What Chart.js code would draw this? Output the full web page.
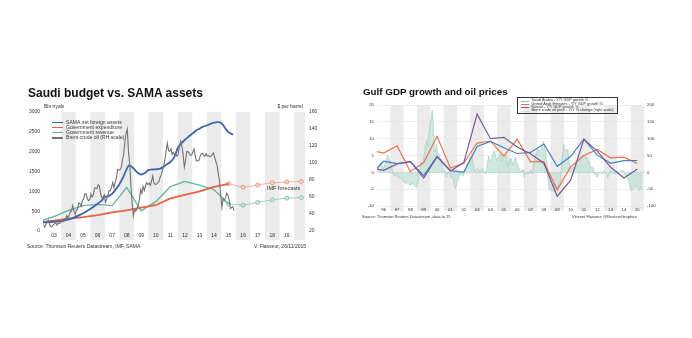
<!DOCTYPE html>
<html><head><meta charset="utf-8">
<script src="https://cdn.jsdelivr.net/npm/chart.js"></script>
<style>
body{margin:0;background:#fff;}
#wrap{position:relative;width:692px;height:338px;overflow:hidden;font-family:"Liberation Sans",Arial,sans-serif;color:#222;background:#fff}
canvas{position:absolute;top:0}
.t{position:absolute;white-space:nowrap;line-height:1}
.lg{position:absolute;white-space:nowrap;line-height:1}
.sw{position:absolute}
</style></head><body><div id="wrap">
<canvas id="c1" width="346" height="338" style="left:0"></canvas>
<canvas id="c2" width="346" height="338" style="left:346px"></canvas>
<div class="t" style="left:28px;top:87.3px;font-size:12px;font-weight:bold;color:#111">Saudi budget vs. SAMA assets</div>
<div class="t" style="left:44px;top:103.5px;font-size:5px;color:#333">Bln riyals</div>
<div class="t" style="right:389px;top:103.5px;font-size:5px;color:#333">$ per barrel</div>
<div class="t" style="left:267px;top:186.3px;font-size:5.5px;color:#333">IMF forecasts</div>
<div class="t" style="left:27px;top:244.2px;font-size:5px;color:#333">Source: Thomson Reuters Datastream, IMF, SAMA</div>
<div class="t" style="right:386px;top:244.2px;font-size:5px;color:#333">V. Flasseur, 26/11/2015</div>
<div class="t" style="left:363px;top:87.3px;font-size:9.8px;font-weight:bold;color:#111">Gulf GDP growth and oil prices</div>
<div class="t" style="left:362px;top:215px;font-size:4px;color:#333">Source: Thomson Reuters Datastream, data to 15</div>
<div class="t" style="right:55px;top:215px;font-size:4px;color:#333">Vincent Flasseur @ReutersGraphics</div>
<div id="leg1"></div>
<div id="leg2" style="position:absolute;left:517px;top:96.5px;width:101px;height:17px;border:0.6px solid #333;box-sizing:border-box"></div>
</div>
<script>
// ---------- Left chart data ----------
const leftYears = [2003,2004,2005,2006,2007,2008,2009,2010,2011,2012,2013,2014,2015,2016,2017,2018,2019];
const leftYearLabels = ['03','04','05','06','07','08','09','10','11','12','13','14','15','16','17','18','19'];
const leftShaded = [2004,2006,2008,2010,2012,2014,2016,2018,2020];

const samaDates = [2002.75,2003.25,2003.75,2004.25,2004.75,2005.25,2005.75,2006.25,2006.75,2007.0,2007.25,2007.5,2007.75,2008.0,2008.25,2008.5,2008.67,2008.85,2009.0,2009.25,2009.5,2009.75,2010.0,2010.25,2010.5,2010.75,2011.0,2011.25,2011.5,2011.75,2012.0,2012.2,2012.5,2012.75,2013.0,2013.25,2013.5,2013.75,2014.0,2014.25,2014.5,2014.75,2014.9,2015.1,2015.3,2015.5,2015.8];
const samaAssets = [215,225,240,270,320,400,500,620,760,860,880,940,1050,1180,1350,1560,1660,1620,1560,1470,1420,1460,1540,1550,1555,1565,1610,1680,1740,1850,2080,2190,2300,2380,2450,2530,2580,2630,2660,2700,2730,2745,2740,2680,2570,2490,2430];

const budgetYears = [2002,2003,2004,2005,2006,2007,2008,2009,2010,2011,2012,2013,2014,2015];
const govExpenditure = [220,260,310,350,400,470,520,590,650,820,910,1000,1110,1190];
const govRevenue = [250,360,520,640,670,640,1100,510,740,1120,1250,1155,1040,680];

const imfYears = [2015,2016,2017,2018,2019,2020];
const imfExpenditure = [1190,1100,1160,1215,1235,1250];
const imfRevenue = [680,650,720,785,830,840];

// Brent crude, $ per barrel, monthly from Oct 2002 to Nov 2015
const brentStartYear = 2002, brentStartMonth = 9;
const brentPrice = [27.5,24.5,28.5,
 31.0,32.5,28.0,25.0,25.5,27.5,28.5,29.8,27.0,29.5,28.8,29.8,
 31.2,30.9,33.8,33.4,37.9,35.2,38.2,42.7,43.2,49.8,43.1,39.6,
 44.5,45.5,53.1,51.9,49.0,55.6,57.9,63.8,63.7,58.5,55.5,56.8,
 63.6,59.9,62.3,70.4,70.8,69.8,74.4,73.0,63.8,59.5,59.5,62.5,
 53.7,57.6,62.1,67.5,67.5,71.3,77.2,70.8,77.2,82.4,92.5,91.5,
 92.0,94.8,103.3,110.4,124.6,135.0,140.0,113.0,99.0,72.8,53.2,38.0,
 44.9,43.2,47.0,50.2,57.3,68.6,64.4,72.5,67.7,73.2,77.0,74.7,
 76.2,73.8,78.8,84.8,75.9,75.0,75.0,77.0,78.0,83.0,86.0,91.5,
 96.5,103.7,114.6,123.3,114.5,113.9,116.7,110.2,112.8,109.6,110.5,107.9,
 110.7,119.3,125.4,119.8,110.3,95.2,102.6,113.4,113.4,111.7,109.1,109.5,
 112.9,116.5,108.5,102.3,102.6,102.9,107.7,111.0,111.6,109.1,107.8,110.8,
 108.1,108.9,107.5,107.8,109.7,111.9,106.9,101.9,97.3,87.3,79.4,62.3,
 47.8,58.1,55.9,59.5,64.6,61.7,56.5,46.5,47.6,48.4,44.0];

// ---------- Right chart data ----------
const rightYears = [1996,1997,1998,1999,2000,2001,2002,2003,2004,2005,2006,2007,2008,2009,2010,2011,2012,2013,2014,2015];
const rightYearLabels = ['96','97','98','99','00','01','02','03','04','05','06','07','08','09','10','11','12','13','14','15'];
const rightShaded = [1997,1999,2001,2003,2005,2007,2009,2011,2013,2015];

const gdpYears = [1995,1996,1997,1998,1999,2000,2001,2002,2003,2004,2005,2006,2007,2008,2009,2010,2011,2012,2013,2014,2015];
const saudiGdp = [-0.8,3.3,2.6,3.2,-1.0,4.8,0.5,0.1,7.7,9.2,7.3,5.6,5.9,8.4,1.8,4.7,9.9,5.1,2.7,3.5,3.5];
const uaeGdp = [6.6,5.7,7.9,0.2,2.9,10.7,1.3,2.7,8.7,9.3,4.8,9.8,3.2,3.2,-5.2,1.6,5.0,6.8,4.3,4.5,2.6];
const kuwaitGdp = [1.3,0.6,2.5,3.2,-1.7,4.6,0.4,2.9,17.3,10.0,10.4,7.5,5.5,2.7,-7.1,-2.4,9.8,6.3,1.5,-1.7,1.0];

// Brent Y/Y % change, monthly from Jan 1996 to Nov 2015
const oilStartYear = 1996;
const oilYoY = [
 10,14,22,30,18,10,18,28,38,50,45,36,
 25,10,-5,-12,-5,-8,-12,-15,-15,-18,-20,-25,
 -30,-32,-35,-28,-30,-38,-36,-35,-30,-38,-43,-45,
 -35,-22,5,30,28,32,55,75,95,80,110,140,
 160,185,150,70,60,85,55,55,45,40,35,0,
 5,-5,-15,0,0,-10,-15,-15,-20,-40,-48,-35,
 -25,-20,0,-5,-10,-10,0,10,15,30,28,45,
 45,50,25,5,5,10,12,8,0,8,12,8,
 2,-5,12,30,48,30,35,45,55,65,50,35,
 40,45,55,52,32,55,50,48,50,18,25,40,
 42,30,20,35,45,28,25,15,0,5,5,10,
 -15,-5,0,-5,-5,5,5,-5,20,35,55,48,
 70,65,65,65,85,92,78,60,30,-12,-45,-55,
 -50,-55,-55,-55,-52,-48,-50,-35,-32,0,40,85,
 72,65,65,68,35,15,15,10,15,15,10,25,
 25,35,45,45,50,50,55,40,45,30,30,20,
 15,15,10,-5,-5,-15,-10,0,0,0,-5,0,
 5,0,-10,-15,-5,5,5,0,0,-5,-5,5,
 -5,-5,0,5,5,5,-5,-10,-15,-20,-30,-45,
 -55,-50,-50,-45,-40,-45,-45,-55,-50,-50,-50];

// ---------- colours ----------
const C = {sama:'#3d63ae', exp:'#e9623f', rev:'#5db4a0', brent:'#727272',
  expF:'#f0a894', revF:'#95cfc0',
  saudi:'#4a7fc0', uae:'#ee7150', kuwait:'#7b5896', oilLine:'#9ccabd', oilFill:'rgba(196,225,216,0.8)', band:'#ebebeb'};

const FONT = '"Liberation Sans", Arial, sans-serif';
Chart.defaults.font.family = FONT;

const bandsPlugin = {
  id: 'bands',
  beforeDraw(chart, args, opts) {
    const {ctx, chartArea: a, scales: {x}} = chart;
    ctx.save();
    ctx.fillStyle = opts.color;
    opts.starts.forEach(s => {
      const x0 = Math.max(x.getPixelForValue(s), a.left);
      const x1 = Math.min(x.getPixelForValue(s + 1), a.right);
      if (x1 > x0) ctx.fillRect(x0, a.top, x1 - x0, a.bottom - a.top + opts.extend);
    });
    ctx.restore();
  }
};

const pts = (xs, ys, off) => xs.map((v, i) => ({x: v + off, y: ys[i]}));
const monthly = (y0, m0, vals) => vals.map((v, i) => ({x: y0 + (m0 + i + 0.5) / 12, y: v}));
const plain = v => String(v);
const noGrid = {display:false, drawTicks:false};

// ---------- Left chart ----------
new Chart(document.getElementById('c1'), {
  type: 'line',
  plugins: [bandsPlugin],
  data: { datasets: [
    {label:'SAMA net foreign assets', data: pts(samaDates, samaAssets, 0), borderColor:C.sama, borderWidth:1.8, pointRadius:0, yAxisID:'y', order:3, tension:0.3},
    {label:'Government expenditure', data: pts(budgetYears, govExpenditure, 0.5), borderColor:C.exp, borderWidth:1.8, pointRadius:0, yAxisID:'y', order:4},
    {label:'Government revenue', data: pts(budgetYears, govRevenue, 0.5), borderColor:C.rev, borderWidth:1.3, pointRadius:0, yAxisID:'y', order:4},
    {label:'Brent crude oil (RH scale)', data: monthly(brentStartYear, brentStartMonth, brentPrice), borderColor:C.brent, borderWidth:1.1, pointRadius:0, yAxisID:'y1', order:1},
    {label:'IMF expenditure', data: pts(imfYears, imfExpenditure, 0.5), borderColor:C.expF, borderWidth:0.9, pointRadius:2, pointBackgroundColor:'#f9d3c8', pointBorderColor:'#e98d74', pointBorderWidth:0.8, yAxisID:'y', order:5},
    {label:'IMF revenue', data: pts(imfYears, imfRevenue, 0.5), borderColor:C.revF, borderWidth:0.9, pointRadius:2, pointBackgroundColor:'#cfe9e1', pointBorderColor:'#6fbca9', pointBorderWidth:0.8, yAxisID:'y', order:5}
  ]},
  options: {
    responsive:false, animation:false, events:[],
    layout:{padding:{top:112, bottom:95, left:0, right:0}},
    plugins:{legend:{display:false}, tooltip:{enabled:false}, bands:{starts:leftShaded, color:C.band, extend:9}},
    scales:{
      x:{type:'linear', min:2002.75, max:2020.75,
         afterBuildTicks: s => { s.ticks = leftYears.map(y => ({value: y + 0.5})); },
         afterFit: s => { s.height = 12; },
         ticks:{callback:(v,i)=>leftYearLabels[i], autoSkip:false, maxRotation:0, padding:2, font:{size:5}, color:'#333'},
         grid:noGrid, border:{display:false}},
      y:{position:'left', min:0, max:3000, afterFit: s => { s.width = 43; },
         ticks:{stepSize:500, callback:plain, padding:3, font:{size:5}, color:'#333'},
         grid:noGrid, border:{display:false}},
      y1:{position:'right', min:20, max:160, afterFit: s => { s.width = 41; },
         ticks:{stepSize:20, callback:plain, padding:4, font:{size:5}, color:'#333'},
         grid:noGrid, border:{display:false}}
    }
  }
});

// ---------- Right chart ----------
new Chart(document.getElementById('c2'), {
  type: 'line',
  plugins: [bandsPlugin],
  data: { datasets: [
    {label:'Saudi Arabia - Y/Y GDP growth %', data: pts(gdpYears, saudiGdp, 0.5), borderColor:C.saudi, borderWidth:1.2, pointRadius:0, yAxisID:'y', order:2},
    {label:'United Arab Emirates - Y/Y GDP growth %', data: pts(gdpYears, uaeGdp, 0.5), borderColor:C.uae, borderWidth:1.2, pointRadius:0, yAxisID:'y', order:3},
    {label:'Kuwait - Y/Y GDP growth %', data: pts(gdpYears, kuwaitGdp, 0.5), borderColor:C.kuwait, borderWidth:1.2, pointRadius:0, yAxisID:'y', order:1},
    {label:'Brent crude oil price - Y/Y % change (right scale)', data: monthly(oilStartYear, 0, oilYoY), borderColor:C.oilLine, borderWidth:0.6, backgroundColor:C.oilFill, fill:'origin', pointRadius:0, yAxisID:'y2', order:10}
  ]},
  options: {
    responsive:false, animation:false, events:[],
    layout:{padding:{top:105, bottom:122, left:0, right:0}},
    plugins:{legend:{display:false}, tooltip:{enabled:false}, bands:{starts:rightShaded, color:C.band, extend:5}},
    scales:{
      x:{type:'linear', min:1996, max:2016,
         afterBuildTicks: s => { s.ticks = rightYears.map(y => ({value: y + 0.5})); },
         afterFit: s => { s.height = 10; },
         ticks:{callback:(v,i)=>rightYearLabels[i], autoSkip:false, maxRotation:0, padding:1, font:{size:4.3}, color:'#333'},
         grid:noGrid, border:{display:false}},
      y:{position:'left', min:-10, max:20, afterFit: s => { s.width = 31; },
         ticks:{stepSize:5, callback:plain, padding:3, font:{size:4.3}, color:'#333'},
         grid:{color: c => c.tick && c.tick.value === 0 ? '#9fcabd' : '#e3e3e3', lineWidth:0.6, drawTicks:false}, border:{display:false}},
      y2:{position:'right', min:-100, max:200, afterFit: s => { s.width = 48; },
         ticks:{stepSize:50, callback:plain, padding:3, font:{size:4.3}, color:'#333'},
         grid:noGrid, border:{display:false}}
    }
  }
});

// ---------- Legends (HTML text) ----------
const leg1Labels = ['SAMA net foreign assets','Government expenditure','Government revenue','Brent crude oil (RH scale)'];
const leg1Colors = [C.sama, C.exp, C.rev, C.brent];
const leg1 = document.getElementById('leg1');
leg1Labels.forEach((t, i) => {
  const yc = 122.5 + i * 5.1;
  const sw = document.createElement('div'); sw.className = 'sw';
  sw.style.cssText = `left:52px;top:${yc-0.8}px;width:11px;height:1.6px;background:${leg1Colors[i]}`;
  const tx = document.createElement('div'); tx.className = 'lg'; tx.textContent = t;
  tx.style.cssText = `left:66px;top:${yc-2.6}px;font-size:5.1px;color:#333`;
  leg1.appendChild(sw); leg1.appendChild(tx);
});
const leg2Labels = ['Saudi Arabia - Y/Y GDP growth %','United Arab Emirates - Y/Y GDP growth %','Kuwait - Y/Y GDP growth %','Brent crude oil price - Y/Y % change (right scale)'];
const leg2Colors = ['#8bbbe0', C.uae, C.kuwait, '#c3e0d7'];
const leg2 = document.getElementById('leg2');
leg2Labels.forEach((t, i) => {
  const yc = 3.7 + i * 3.35;
  const sw = document.createElement('div'); sw.className = 'sw';
  sw.style.cssText = `left:3px;top:${yc-0.5}px;width:8px;height:1px;background:${leg2Colors[i]}`;
  const tx = document.createElement('div'); tx.className = 'lg'; tx.textContent = t;
  tx.style.cssText = `left:13.5px;top:${yc-1.9}px;font-size:3.8px;color:#333`;
  leg2.appendChild(sw); leg2.appendChild(tx);
});
</script>
</body></html>
